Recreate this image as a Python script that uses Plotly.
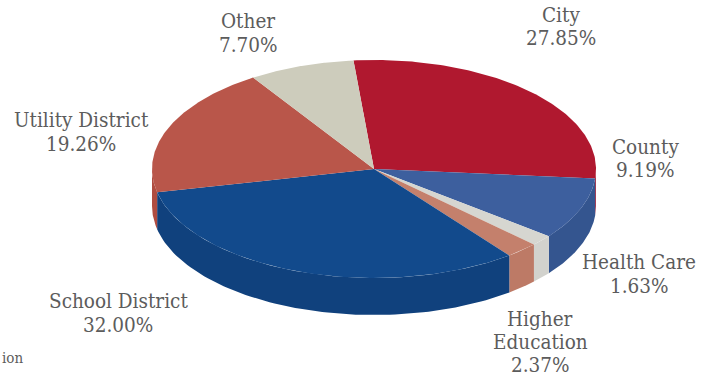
import numpy as np
import plotly.graph_objects as go

# Shares by sector, clockwise starting from City
sectors = ["City", "County", "Health Care", "Higher Education",
           "School District", "Utility District", "Other"]
shares = [27.85, 9.19, 1.63, 2.37, 32.00, 19.26, 7.70]

top_colors = ["#b0182f", "#3d5f9e", "#d6d6d0", "#c4806c", "#124a8c", "#b9564a", "#cdccbc"]
wall_colors = ["#a8142c", "#34558f", "#d2d2cd", "#bd7a66", "#10417d", "#b04c40", "#c4c3b3"]

# Each label: sector index, name lines and their centre positions
label_lines = [
    (0, ["City"], [561], [15]),
    (1, ["County"], [645], [147]),
    (2, ["Health Care"], [639], [262]),
    (3, ["Higher", "Education"], [540, 540], [319, 342]),
    (4, ["School District"], [118], [301]),
    (5, ["Utility District"], [81], [120]),
    (6, ["Other"], [248], [21]),
]
percent_pos = [(561, 38), (645, 170), (639, 286), (540, 364.5), (118, 325), (81, 144), (248, 45)]

TEXT_FONT = dict(family="DejaVu Serif Condensed, DejaVu Serif, serif", size=20.5, color="#5c5c5c")

# Tilted disc geometry on the page
CX, CY = 374.0, 169.0
RX, RY = 222.0, 109.0
DEPTH = 37.0
START_DEG = -5.3


def rim(deg, drop=0.0):
    """Points on the disc rim for clockwise angles measured from the top."""
    t = np.radians(deg)
    return CX + RX * np.sin(t), CY - RY * np.cos(t) + drop


fig = go.Figure()

edges = START_DEG + np.cumsum([0] + shares) * 3.6
spans = list(zip(edges[:-1], edges[1:]))

# Side walls first: only the front half of the rim (90 to 270 degrees) shows
for name, share, (a, b), color in zip(sectors, shares, spans, wall_colors):
    lo, hi = max(a, 90), min(b, 270)
    if hi <= lo:
        continue
    deg = np.linspace(lo, hi, 80)
    x_up, y_up = rim(deg)
    x_dn, y_dn = rim(deg[::-1], DEPTH)
    fig.add_trace(go.Scatter(
        x=np.r_[x_up, x_dn], y=np.r_[y_up, y_dn], mode="lines", fill="toself",
        fillcolor=color, line=dict(width=0), name=name, hoverinfo="skip", showlegend=False,
    ))

# Top face wedges
for name, share, (a, b), color in zip(sectors, shares, spans, top_colors):
    deg = np.linspace(a, b, 120)
    x_arc, y_arc = rim(deg)
    fig.add_trace(go.Scatter(
        x=np.r_[CX, x_arc, CX], y=np.r_[CY, y_arc, CY], mode="lines", fill="toself",
        fillcolor=color, line=dict(width=0), name=name, showlegend=False,
        hovertemplate=f"{name}: {share:.2f}%<extra></extra>",
    ))

# Sector names and percentages
for (idx, texts, xs, ys), (px, py) in zip(label_lines, percent_pos):
    for text, x, y in zip(texts, xs, ys):
        fig.add_annotation(x=x, y=y, text=text, showarrow=False, font=TEXT_FONT)
    fig.add_annotation(x=px, y=py, text=f"{shares[idx]:.2f}%", showarrow=False, font=TEXT_FONT)

# Tail of a caption running in from the left
fig.add_annotation(x=0, y=358, xanchor="left", text="ion", showarrow=False,
                   font=dict(family=TEXT_FONT["family"], size=15, color="#5c5c5c"))

fig.update_layout(
    width=711, height=379, margin=dict(l=0, r=0, t=0, b=0),
    paper_bgcolor="#ffffff", plot_bgcolor="#ffffff", showlegend=False,
    xaxis=dict(range=[0, 711], visible=False, fixedrange=True),
    yaxis=dict(range=[379, 0], visible=False, fixedrange=True),
)

fig.write_html("out.html", config=dict(displayModeBar=False))
